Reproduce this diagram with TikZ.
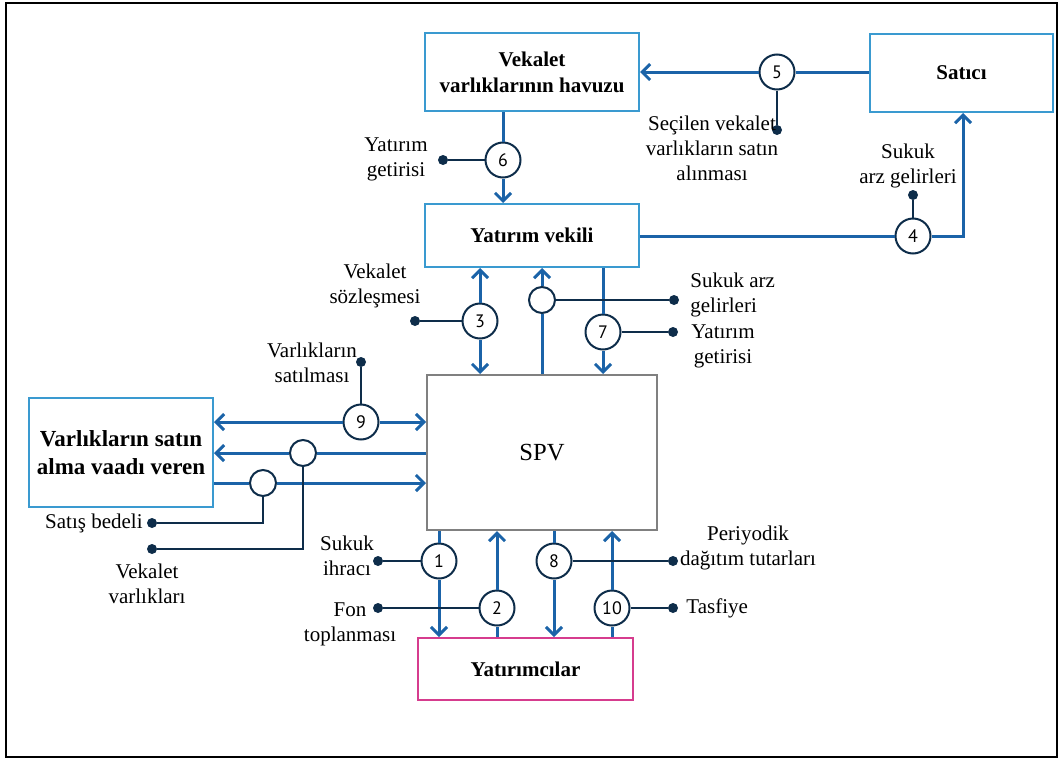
\documentclass[tikz,border=0pt]{standalone}
\usepackage{fontspec}
\setmainfont{Liberation Serif}
\newfontfamily\numfont{PT Sans}
\usetikzlibrary{positioning,calc,arrows.meta}

\definecolor{flowblue}{HTML}{1B63A8}
\definecolor{boxblue}{HTML}{3A9AD0}
\definecolor{navy}{HTML}{0E2D4A}
\definecolor{spvgray}{HTML}{808080}
\definecolor{pinkline}{HTML}{D63C8E}

\begin{document}
\begin{tikzpicture}[
  x=0.5pt, y=-0.5pt,
  box/.style={draw=boxblue, line width=1pt, fill=white, align=center,
              font=\fontsize{10.5}{13}\selectfont\bfseries, inner sep=2pt},
  num/.style={circle, draw=navy, line width=1pt, fill=white, minimum size=17.5pt,
              inner sep=0pt, font=\numfont\fontsize{9}{9}\selectfont},
  hub/.style={circle, draw=navy, line width=1pt, fill=white, minimum size=13pt, inner sep=0pt},
  dot/.style={circle, fill=navy, minimum size=5pt, inner sep=0pt},
  flow/.style={-{Straight Barb[length=4pt,width=8pt]}, line width=1.5pt, flowblue},
  tag/.style={line width=0.75pt, navy},
  lab/.style={font=\fontsize{10.5}{12.5}\selectfont, align=center, inner sep=0pt}
]
\useasboundingbox (0,0) rectangle (1060,760);
\draw[line width=1pt] (6,3) rectangle (1057,757);

% boxes
\node[box, minimum width=107pt, minimum height=39pt] (pool) at (532,72) {Vekalet\\varlıklarının havuzu};
\node[box, minimum width=91.5pt, minimum height=39pt] (satici) at (961.5,73) {Satıcı};
\node[box, minimum width=107pt, minimum height=31.5pt] (vekil) at (532,235.5) {Yatırım vekili};
\node[box, draw=spvgray, minimum width=115pt, minimum height=77.5pt,
      font=\fontsize{12.3}{14}\selectfont] (spv) at (542,452.5) {SPV};
\node[box, draw=pinkline, minimum width=107.5pt, minimum height=31pt] (yat) at (525.5,669) {Yatırımcılar};
\node[box, minimum width=92pt, minimum height=54.5pt,
      font=\fontsize{11.5}{14}\selectfont\bfseries] (vaad) at (121,452.5) {Varlıkların satın\\alma vaadı veren};

% numbered circles
\node[num] (c5) at (777,72) {5};
\node[num] (c6) at (503,160) {6};
\node[num] (c4) at (913,236) {4};
\node[num] (c3) at (480,321) {3};
\node[num] (c7) at (603,332) {7};
\node[num] (c9) at (361,422) {9};
\node[num] (c1) at (439,561) {1};
\node[num] (c2) at (497,608) {2};
\node[num] (c8) at (554,561) {8};
\node[num] (c10) at (612,608) {10};
\node[hub] (ca) at (542,300) {};
\node[hub] (cb) at (303,453) {};
\node[hub] (cc) at (263,483) {};
\coordinate (k4) at (963,236);

% dots
\node[dot] (d5) at (777,130) {};
\node[dot] (d6) at (443,160) {};
\node[dot] (d4) at (913,195) {};
\node[dot] (d3) at (415,321) {};
\node[dot] (da) at (674,300) {};
\node[dot] (d7) at (673,332) {};
\node[dot] (d9) at (361,362) {};
\node[dot] (db) at (152,549) {};
\node[dot] (dc) at (152,523) {};
\node[dot] (d1) at (378,561) {};
\node[dot] (d2) at (378,608) {};
\node[dot] (d8) at (673,561) {};
\node[dot] (d10) at (673,608) {};

% flows
\draw[flow] (satici.west |- c5) -- (c5) -- (pool.east |- c5);
\draw[flow] (pool.south -| c6) -- (c6) -- (vekil.north -| c6);
\draw[flow] (vekil.east |- c4) -- (c4) -- (k4) -- (satici.south -| k4);
\draw[flow] (c3) -- (vekil.south -| c3);
\draw[flow] (c3) -- (spv.north -| c3);
\draw[flow] (spv.north -| ca) -- (ca) -- (vekil.south -| ca);
\draw[flow] (vekil.south -| c7) -- (c7) -- (spv.north -| c7);
\draw[flow] (c9) -- (vaad.east |- c9);
\draw[flow] (c9) -- (spv.west |- c9);
\draw[flow] (spv.west |- cb) -- (cb) -- (vaad.east |- cb);
\draw[flow] (vaad.east |- cc) -- (cc) -- (spv.west |- cc);
\draw[flow] (spv.south -| c1) -- (c1) -- (yat.north -| c1);
\draw[flow] (yat.north -| c2) -- (c2) -- (spv.south -| c2);
\draw[flow] (spv.south -| c8) -- (c8) -- (yat.north -| c8);
\draw[flow] (yat.north -| c10) -- (c10) -- (spv.south -| c10);

% tags
\draw[tag] (c5) -- (d5);
\draw[tag] (c6) -- (d6);
\draw[tag] (c4) -- (d4);
\draw[tag] (c3) -- (d3);
\draw[tag] (ca) -- (da);
\draw[tag] (c7) -- (d7);
\draw[tag] (c9) -- (d9);
\draw[tag] (cb) -- (cb |- db) -- (db);
\draw[tag] (cc) -- (cc |- dc) -- (dc);
\draw[tag] (c1) -- (d1);
\draw[tag] (c2) -- (d2);
\draw[tag] (c8) -- (d8);
\draw[tag] (c10) -- (d10);

% labels
\node[lab] (l5) at (712,148) {Seçilen vekalet\\varlıkların satın\\alınması};
\node[lab] (l6) at (396,159) {Yatırım\\getirisi};
\node[lab] (l4) at (908,166) {Sukuk\\arz gelirleri};
\node[lab] (l3) at (375,286) {Vekalet\\sözleşmesi};
\node[lab, align=left, anchor=west] (la) at (690,295) {Sukuk arz\\gelirleri};
\node[lab] (l7) at (723,346) {Yatırım\\getirisi};
\node[lab] (l9) at (312,363) {Varlıkların\\satılması};
\node[lab] (lb) at (147,584) {Vekalet\\varlıkları};
\node[lab, anchor=east] (lc) at (143,523) {Satış bedeli};
\node[lab] (l1) at (347,556) {Sukuk\\ihracı};
\node[lab] (l2) at (350,624) {Fon\\toplanması};
\node[lab] (l8) at (748,548) {Periyodik\\dağıtım tutarları};
\node[lab, anchor=west] (l10) at (686,608) {Tasfiye};

\end{tikzpicture}
\end{document}
